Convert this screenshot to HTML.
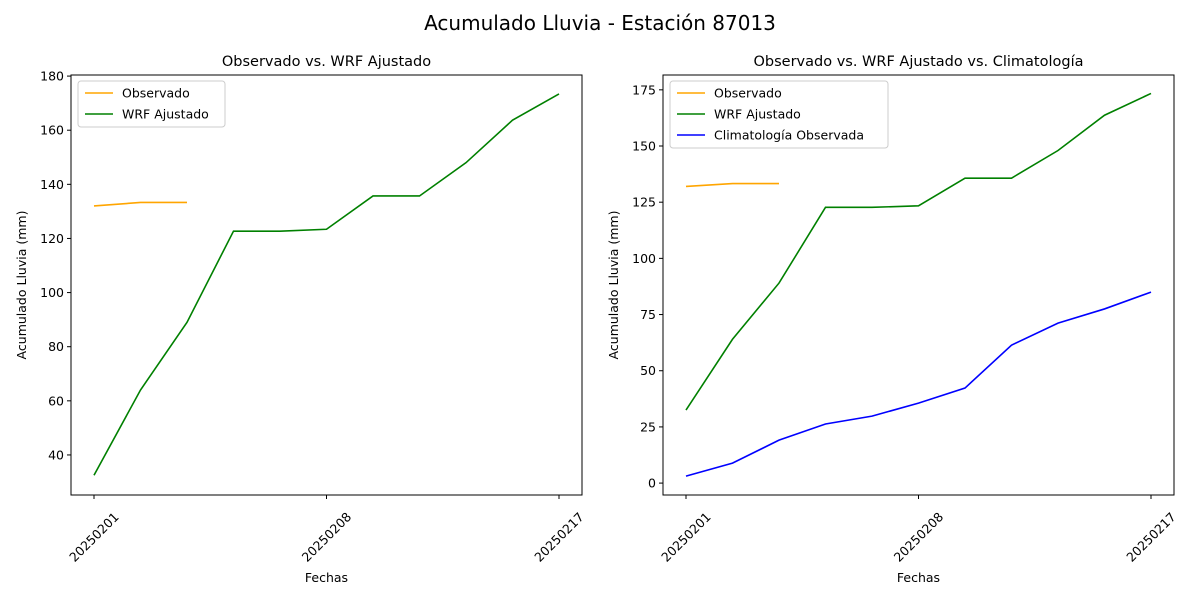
<!DOCTYPE html>
<html><head><meta charset="utf-8"><style>
body{margin:0;background:#fff;font-family:"Liberation Sans","DejaVu Sans",sans-serif}
svg text{font-family:"DejaVu Sans","Liberation Sans",sans-serif}
</style></head><body>
<svg id="c" width="1200" height="600" xmlns="http://www.w3.org/2000/svg">
<text x="600" y="30" font-size="20" text-anchor="middle">Acumulado Lluvia - Estación 87013</text>
</svg>
<script>
const categories=["20250201","","","","","20250208","","","","","20250217"];
const tickIdx=[0,5,10];
const obsValues=[132.0,133.3,133.3];
const wrfValues=[32.5,64.0,89.0,122.7,122.7,123.4,135.7,135.7,148.0,163.7,173.4];
const climValues=[3.1,8.9,19.1,26.3,29.8,35.6,42.3,61.4,71.2,77.5,85.0];
const leftTicks=[40,60,80,100,120,140,160,180];
const rightTicks=[0,25,50,75,100,125,150,175];
const NS="http://www.w3.org/2000/svg";
const svg=document.getElementById('c');
function mk(t,a,p){const e=document.createElementNS(NS,t);for(const k in a)e.setAttribute(k,a[k]);(p||svg).appendChild(e);return e;}
function panel(x0,x1,y0,y1,vmin,vmax,ticks,title,series,legendW,name){
  const g=mk('g',{});
  
  
  const n=categories.length, pad=(x1-x0)*0.045;
  const X=i=>x0+pad+i*(x1-x0-2*pad)/(n-1);
  const Y=v=>y1-(v-vmin)/(vmax-vmin)*(y1-y0);
  const t=mk('text',{x:(x0+x1)/2,y:y0-9,'font-size':14.5,'text-anchor':'middle'},g);t.textContent=title;
  
  
  ticks.forEach(v=>{const y=Y(v);mk('line',{x1:x0-4,x2:x0,y1:y,y2:y,stroke:'#000'},g);
    const l=mk('text',{x:x0-7,y:y+4.5,'font-size':12.5,'text-anchor':'end'},g);l.textContent=v;
    
    });
  tickIdx.forEach(i=>{const x=X(i);mk('line',{x1:x,x2:x,y1:y1,y2:y1+4,stroke:'#000'},g);
    const cy=y1+42;
    const l=mk('text',{x:x,y:cy+4.5,'font-size':12.5,'text-anchor':'middle',transform:`rotate(-45 ${x} ${cy})`},g);l.textContent=categories[i];
    
    });
  const xl=mk('text',{x:(x0+x1)/2,y:582,'font-size':12.5,'text-anchor':'middle'},g);xl.textContent='Fechas';
  
  
  const yl=mk('text',{x:0,y:0,'font-size':12.5,'text-anchor':'middle',transform:`translate(${x0-45},${(y0+y1)/2}) rotate(-90)`},g);yl.textContent='Acumulado Lluvia (mm)';
  
  
  series.forEach(s=>{const p=mk('polyline',{points:s.v.map((v,i)=>X(i)+','+Y(v)).join(' '),fill:'none',stroke:s.c,'stroke-width':1.6},g);
    
    });
  mk('rect',{x:x0,y:y0,width:x1-x0,height:y1-y0,fill:'none',stroke:'#000','stroke-width':1},g);
  const lg=mk('g',{},g);
  
  
  mk('rect',{x:x0+7,y:y0+6,width:legendW,height:series.length*21+4,rx:3,fill:'#fff',stroke:'#ccc'},lg);
  series.forEach((s,i)=>{const y=y0+18+i*21;mk('line',{x1:x0+14,x2:x0+42,y1:y,y2:y,stroke:s.c,'stroke-width':1.6},lg);
    const l=mk('text',{x:x0+51,y:y+4.5,'font-size':12.5},lg);l.textContent=s.label;
    
    });
}
panel(71,582,75,495,25.2,180.4,leftTicks,'Observado vs. WRF Ajustado',
 [{v:obsValues,c:'orange',label:'Observado',n:'observado-line'},{v:wrfValues,c:'green',label:'WRF Ajustado',n:'wrf-line'}],147,'left-panel');
panel(663,1174,75,495,-5.3,181.6,rightTicks,'Observado vs. WRF Ajustado vs. Climatología',
 [{v:obsValues,c:'orange',label:'Observado',n:'observado-line'},{v:wrfValues,c:'green',label:'WRF Ajustado',n:'wrf-line'},{v:climValues,c:'blue',label:'Climatología Observada',n:'climatologia-line'}],218,'right-panel');
</script>
</body></html>
